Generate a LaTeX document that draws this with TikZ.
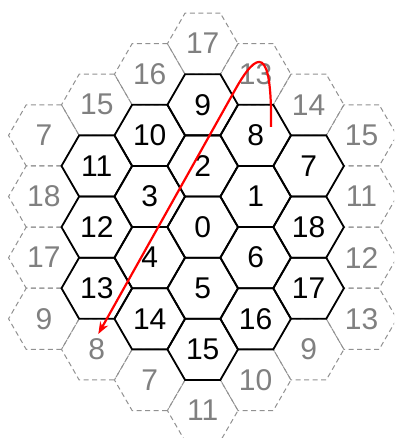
\documentclass[tikz,border=0pt]{standalone}
\usepackage{fontspec}
\setmainfont{Liberation Sans}
\usepackage{xcolor}
\usetikzlibrary{arrows.meta,shapes.geometric}
\definecolor{ringgray}{RGB}{145,145,145}
\definecolor{labelgray}{RGB}{128,128,128}

\begin{document}
\begin{tikzpicture}[
  x=1pt, y=1pt,
  font=\fontsize{30}{30}\selectfont,
  hexa/.style={regular polygon, regular polygon sides=6, minimum size=70.6pt, inner sep=0pt, outer sep=0pt},
  cell/.style={hexa, draw=black, line width=1.8pt},
  ring/.style={hexa, draw=ringgray, line width=1pt, dash pattern=on 5pt off 3.5pt, text=labelgray},
  walk/.style={draw=red, line width=2.2pt, -{Stealth[length=12pt,width=9pt]}}
]
\useasboundingbox (-202.7,-210.9) rectangle (191.3,227.1);
\clip (-202.7,-210.9) rectangle (191.3,227.1);
% outer ring (dashed)
\foreach \q/\h/\t in {0/6/17, 1/5/13, 2/4/14, 3/3/15, 3/1/11, 3/-1/12, 3/-3/13, 2/-4/9, 1/-5/10,
  0/-6/11, -1/-5/7, -2/-4/8, -3/-3/9, -3/-1/17, -3/1/18, -3/3/7, -2/4/15, -1/5/16}
  \node[ring] (o\q\h) at ({\q*52.95},{\h*30.57}) {\t};
% inner cells
\foreach \q/\h/\t in {0/0/0, 1/1/1, 0/2/2, -1/1/3, -1/-1/4, 0/-2/5, 1/-1/6,
  2/2/7, 1/3/8, 0/4/9, -1/3/10, -2/2/11, -2/0/12, -2/-2/13, -1/-3/14, 0/-4/15, 1/-3/16, 2/-2/17, 2/0/18}
  \node[cell] (c\t) at ({\q*52.95},{\h*30.57}) {\t};
\draw[walk] ([shift={(15.4,8.4)}]c8.center) .. controls (69.3,182.1) and (54.7,177.1) .. (32.3,137.1)
  -- ([shift={(1.5,15.4)}]o-2-4.center);
\end{tikzpicture}
\end{document}
